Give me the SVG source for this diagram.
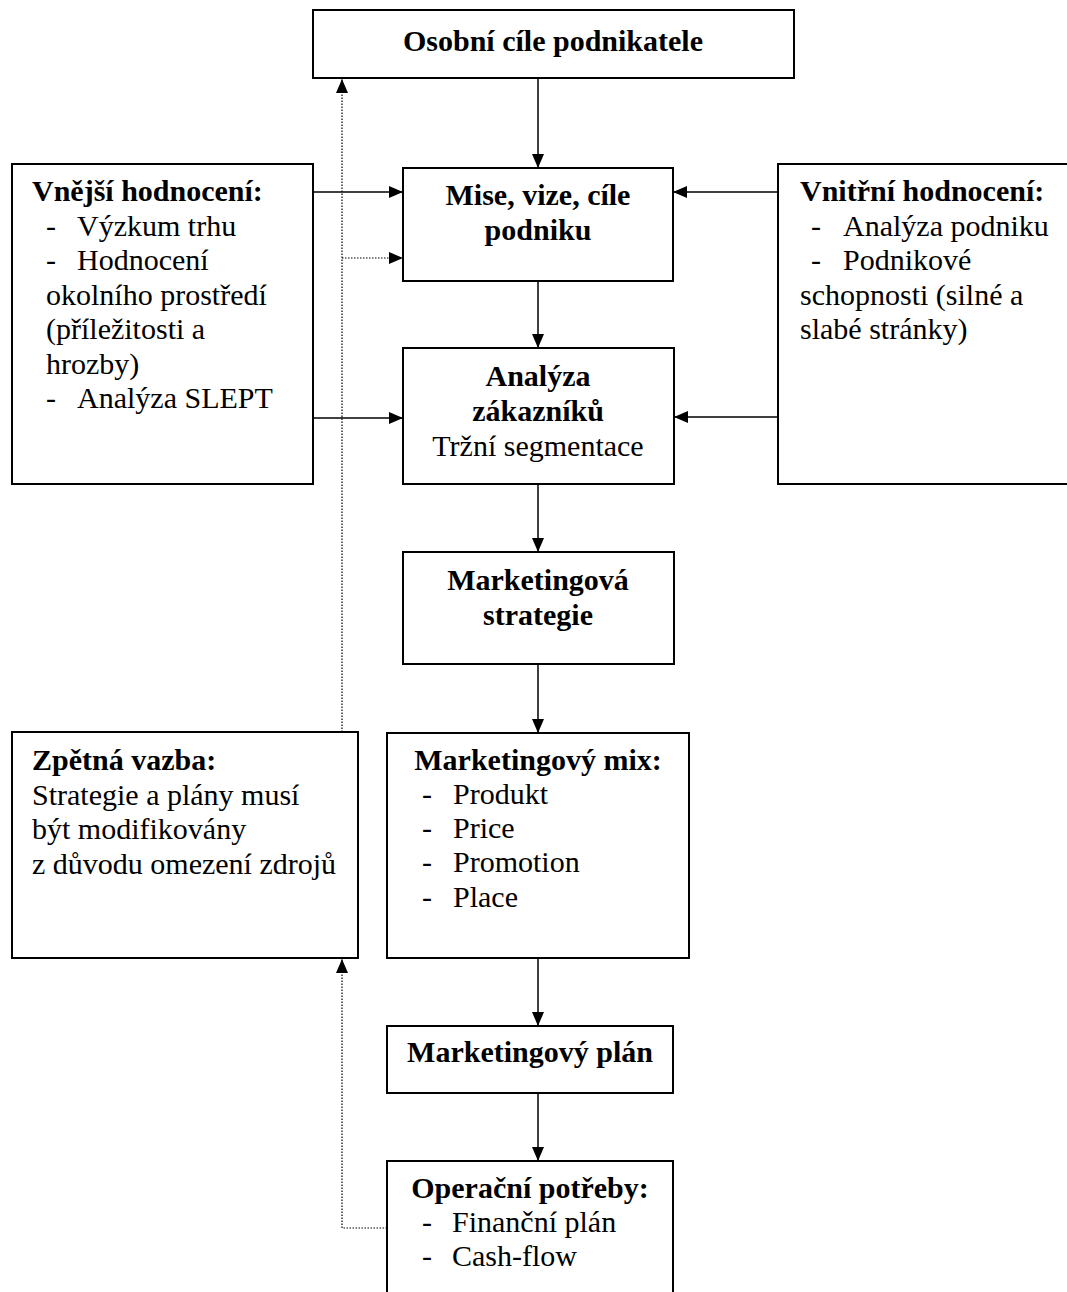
<svg xmlns="http://www.w3.org/2000/svg" width="1067" height="1292" viewBox="0 0 1067 1292" font-family="'Liberation Serif', 'Times New Roman', 'DejaVu Serif', serif">
  <defs>
    <marker id="arrow" viewBox="0 0 14 12" refX="14" refY="6" markerWidth="14" markerHeight="12" markerUnits="userSpaceOnUse" orient="auto">
      <path d="M0,0 L14,6 L0,12 Z" fill="#000"/>
    </marker>
    <style>
      .box { fill: #fff; stroke: #000; stroke-width: 2; }
      .t { font-family: 'Liberation Serif', 'Times New Roman', 'DejaVu Serif', serif; font-size: 30px; fill: #000; }
      .b { font-weight: bold; }
      .c { text-anchor: middle; }
      .link { fill: none; stroke: #000; stroke-width: 1.5; marker-end: url(#arrow); }
      .fb { fill: none; stroke: #000; stroke-width: 1.2; stroke-dasharray: 1.5 1.5; }
      .fba { marker-end: url(#arrow); }
    </style>
  </defs>

  <rect width="1067" height="1292" fill="#fff"/>

  <!-- connectors -->
  <g id="connectors">
    <line class="link" x1="538" y1="78" x2="538" y2="168"/>
    <line class="link" x1="313" y1="192" x2="403" y2="192"/>
    <line class="link" x1="313" y1="418" x2="403" y2="418"/>
    <line class="link" x1="778" y1="192" x2="673" y2="192"/>
    <line class="link" x1="778" y1="417" x2="674" y2="417"/>
    <line class="link" x1="538" y1="281" x2="538" y2="348"/>
    <line class="link" x1="538" y1="484" x2="538" y2="552"/>
    <line class="link" x1="538" y1="664" x2="538" y2="733"/>
    <line class="link" x1="538" y1="958" x2="538" y2="1026"/>
    <line class="link" x1="538" y1="1093" x2="538" y2="1161"/>
    <!-- feedback loop (dotted) -->
    <polyline class="fb fba" points="387,1228 342,1228 342,959"/>
    <line class="fb fba" x1="342" y1="732" x2="342" y2="79"/>
    <line class="fb fba" x1="342" y1="258" x2="403" y2="258"/>
  </g>

  <g id="osobni-cile">
    <rect class="box" x="313" y="10" width="481" height="68"/>
    <text class="t b c" x="553" y="51">Osobní cíle podnikatele</text>
  </g>

  <g id="mise-vize">
    <rect class="box" x="403" y="168" width="270" height="113"/>
    <text class="t b c" x="538" y="205">Mise, vize, cíle</text>
    <text class="t b c" x="538" y="240">podniku</text>
  </g>

  <g id="vnejsi-hodnoceni">
    <rect class="box" x="12" y="164" width="301" height="320"/>
    <text class="t b" x="32" y="201">Vnější hodnocení:</text>
    <text class="t" x="46" y="236">-</text>
    <text class="t" x="77" y="236">Výzkum trhu</text>
    <text class="t" x="46" y="270">-</text>
    <text class="t" x="77" y="270">Hodnocení</text>
    <text class="t" x="46" y="305">okolního prostředí</text>
    <text class="t" x="46" y="339">(příležitosti a</text>
    <text class="t" x="46" y="374">hrozby)</text>
    <text class="t" x="46" y="408">-</text>
    <text class="t" x="77" y="408">Analýza SLEPT</text>
  </g>

  <g id="vnitrni-hodnoceni">
    <rect class="box" x="778" y="164" width="300" height="320"/>
    <text class="t b" x="800" y="201">Vnitřní hodnocení:</text>
    <text class="t" x="811" y="236">-</text>
    <text class="t" x="843" y="236">Analýza podniku</text>
    <text class="t" x="811" y="270">-</text>
    <text class="t" x="843" y="270">Podnikové</text>
    <text class="t" x="800" y="305">schopnosti (silné a</text>
    <text class="t" x="800" y="339">slabé stránky)</text>
  </g>

  <g id="analyza-zakazniku">
    <rect class="box" x="403" y="348" width="271" height="136"/>
    <text class="t b c" x="538" y="386">Analýza</text>
    <text class="t b c" x="538" y="421">zákazníků</text>
    <text class="t c" x="538" y="456">Tržní segmentace</text>
  </g>

  <g id="marketingova-strategie">
    <rect class="box" x="403" y="552" width="271" height="112"/>
    <text class="t b c" x="538" y="590">Marketingová</text>
    <text class="t b c" x="538" y="625">strategie</text>
  </g>

  <g id="zpetna-vazba">
    <rect class="box" x="12" y="732" width="346" height="226"/>
    <text class="t b" x="32" y="770">Zpětná vazba:</text>
    <text class="t" x="32" y="805">Strategie a plány musí</text>
    <text class="t" x="32" y="839">být modifikovány</text>
    <text class="t" x="32" y="874">z důvodu omezení zdrojů</text>
  </g>

  <g id="marketingovy-mix">
    <rect class="box" x="387" y="733" width="302" height="225"/>
    <text class="t b c" x="538" y="770">Marketingový mix:</text>
    <text class="t" x="422" y="804">-</text>
    <text class="t" x="453" y="804">Produkt</text>
    <text class="t" x="422" y="838">-</text>
    <text class="t" x="453" y="838">Price</text>
    <text class="t" x="422" y="872">-</text>
    <text class="t" x="453" y="872">Promotion</text>
    <text class="t" x="422" y="907">-</text>
    <text class="t" x="453" y="907">Place</text>
  </g>

  <g id="marketingovy-plan">
    <rect class="box" x="387" y="1026" width="286" height="67"/>
    <text class="t b c" x="530" y="1062">Marketingový plán</text>
  </g>

  <g id="operacni-potreby">
    <rect class="box" x="387" y="1161" width="286" height="140"/>
    <text class="t b c" x="530" y="1198">Operační potřeby:</text>
    <text class="t" x="422" y="1232">-</text>
    <text class="t" x="452" y="1232">Finanční plán</text>
    <text class="t" x="422" y="1266">-</text>
    <text class="t" x="452" y="1266">Cash-flow</text>
  </g>
</svg>
